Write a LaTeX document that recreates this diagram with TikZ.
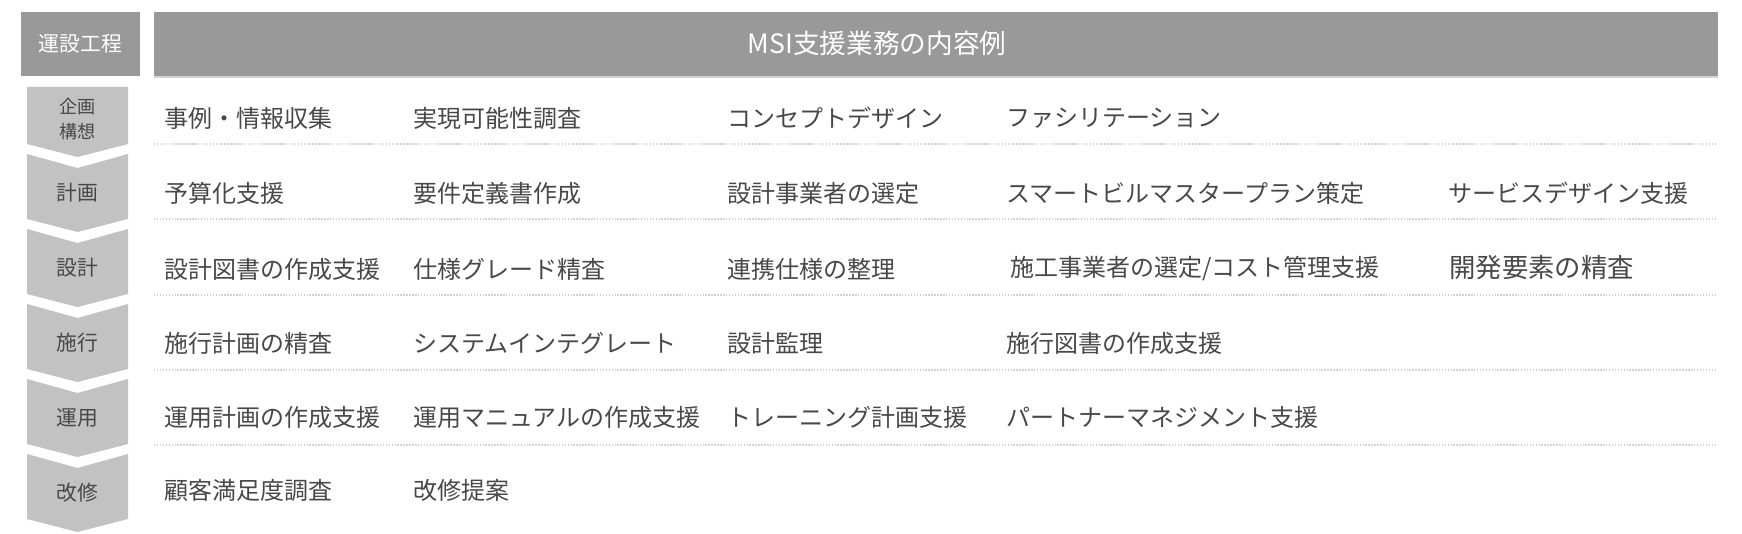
\documentclass[tikz,border=0pt]{standalone}
\usepackage{fontspec}
\setmainfont{Noto Sans CJK JP}
\definecolor{headgray}{HTML}{999999}
\definecolor{stagegray}{HTML}{C2C2C2}
\definecolor{textgray}{HTML}{484848}
\definecolor{linegray}{HTML}{D2D2D2}

\begin{document}
\begin{tikzpicture}%
  [x=0.75pt,
   y=-0.75pt,
   headbox/.style={fill=headgray},
   headtext/.style={text=white, inner sep=0pt, font=\fontsize{15.6}{18}\selectfont},
   stage/.style={fill=stagegray},
   stagetext/.style={text=textgray, inner sep=0pt, align=center, font=\fontsize{15.6}{18}\selectfont},
   task/.style={text=textgray, inner sep=0pt, anchor=west, font=\fontsize{18}{20}\selectfont},
   sepline/.style={draw=linegray, line width=1.1pt, dash pattern=on 1.1pt off 1.1pt}
  ]
\useasboundingbox (0,0) rectangle (1742,534);

% header
\fill[headbox] (21,12)  rectangle (140,76);
\fill[headbox] (154,12) rectangle (1718,76);
\draw[linegray, line width=1pt] (154,77) -- (1718,77);
\node[headtext] (proc)  at (80.5,44) {運設工程};
\node[headtext, font=\fontsize{20}{22}\selectfont] (title) at (877,43) {MSI支援業務の内容例};

% stages
\fill[stage] (27,87)  -- (128,87)  -- (128,144) -- (77.5,157) -- (27,144) -- cycle;
\fill[stage] (27,154) -- (77.5,168) -- (128,154) -- (128,219) -- (77.5,232) -- (27,219) -- cycle;
\fill[stage] (27,229) -- (77.5,243) -- (128,229) -- (128,294) -- (77.5,307) -- (27,294) -- cycle;
\fill[stage] (27,304) -- (77.5,318) -- (128,304) -- (128,369) -- (77.5,382) -- (27,369) -- cycle;
\fill[stage] (27,379) -- (77.5,393) -- (128,379) -- (128,444) -- (77.5,457) -- (27,444) -- cycle;
\fill[stage] (27,454) -- (77.5,468) -- (128,454) -- (128,519) -- (77.5,532) -- (27,519) -- cycle;

\node[stagetext, font=\fontsize{13.6}{18.8}\selectfont] (plan) at (77.5,119) {企画\\構想};
\node[stagetext] (budget)  at (77.5,193) {計画};
\node[stagetext] (design)  at (77.5,268) {設計};
\node[stagetext] (build)   at (77.5,343) {施行};
\node[stagetext] (operate) at (77.5,418) {運用};
\node[stagetext] (renew)   at (77.5,493) {改修};

% separators
\draw[sepline] (154,144) -- (1716,144);
\draw[sepline] (154,219) -- (1716,219);
\draw[sepline] (154,295) -- (1716,295);
\draw[sepline] (154,370) -- (1716,370);
\draw[sepline] (154,445) -- (1716,445);

% tasks
\node[task] (plan1)    at (164,118)  {事例・情報収集};
\node[task] (plan2)    at (413,118)  {実現可能性調査};
\node[task] (plan3)    at (727,118)  {コンセプトデザイン};
\node[task] (plan4)    at (1006,118) {ファシリテーション};

\node[task] (budget1)  at (164,193)  {予算化支援};
\node[task] (budget2)  at (413,193)  {要件定義書作成};
\node[task] (budget3)  at (727,193)  {設計事業者の選定};
\node[task] (budget4)  at (1006,193) {スマートビルマスタープラン策定};
\node[task] (budget5)  at (1448,193) {サービスデザイン支援};

\node[task] (design1)  at (164,269)  {設計図書の作成支援};
\node[task] (design2)  at (413,269)  {仕様グレード精査};
\node[task] (design3)  at (727,269)  {連携仕様の整理};
\node[task] (design4)  at (1010,269) {施工事業者の選定/コスト管理支援};
\node[task, font=\fontsize{19.8}{22}\selectfont] (design5) at (1449,268) {開発要素の精査};

\node[task] (build1)   at (164,343)  {施行計画の精査};
\node[task] (build2)   at (413,343)  {システムインテグレート};
\node[task] (build3)   at (727,343)  {設計監理};
\node[task] (build4)   at (1006,343) {施行図書の作成支援};

\node[task] (operate1) at (164,417)  {運用計画の作成支援};
\node[task] (operate2) at (413,417)  {運用マニュアルの作成支援};
\node[task] (operate3) at (727,417)  {トレーニング計画支援};
\node[task] (operate4) at (1006,417) {パートナーマネジメント支援};

\node[task] (renew1)   at (164,490)  {顧客満足度調査};
\node[task] (renew2)   at (413,490)  {改修提案};
\end{tikzpicture}
\end{document}
